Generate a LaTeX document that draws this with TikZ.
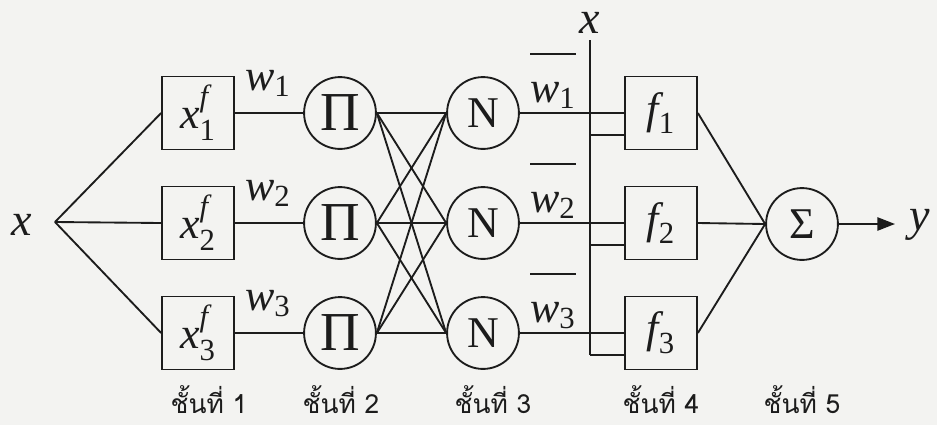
\documentclass[tikz,border=0pt]{standalone}
\usepackage{amsmath}
\usepackage{fontspec}
\setmainfont{Liberation Serif}
\newfontfamily\thaifont[Script=Thai]{Loma}
\usetikzlibrary{positioning,calc,arrows.meta}
\definecolor{scanBg}{HTML}{F3F3F1}
\definecolor{inkLine}{HTML}{1C1C1C}

\begin{document}
\begin{tikzpicture}[x=0.016cm, y=-0.016cm, color=inkLine, line width=0.85pt,
  mfbox/.style={draw, minimum width=1.15cm, minimum height=1.17cm, inner sep=0pt,
    font=\fontsize{20}{20}\selectfont},
  opnode/.style={draw, circle, minimum size=1.15cm, inner sep=0pt},
  wlabel/.style={anchor=base, font=\fontsize{20}{20}\selectfont},
  varlabel/.style={anchor=base, text height=0.5em, text depth=0.2em,
    font=\fontsize{21}{21}\selectfont\itshape},
  layertag/.style={anchor=base, font=\thaifont\fontsize{12}{14}\selectfont}]

% --- frame of the scan ---
\useasboundingbox (0,0) rectangle (937,425);
\fill[scanBg] (0,0) rectangle (937,425);

% --- input x and the x bus ---
\node[varlabel] (xlab) at (22,235) {x};
\coordinate (xin) at (55,222);
\node[varlabel] (xbuslab) at (590,33) {x};
\coordinate (xtop) at (590,40);

% --- output node (layer 5) ---
\node[opnode, font=\fontsize{20}{20}\selectfont] (sum) at (802,224) {Σ};

% --- layers 1 to 4, one row at a time ---
\foreach \i/\y in {1/113,2/223,3/333} {
  \node[mfbox] (mf\i) at (198,\y) {$\textit{x}_{\text{\i}}^{\textit{f}}$};
  \node[opnode, font=\fontsize{25}{25}\selectfont] (prod\i) at (340,\y) {Π};
  \node[opnode, font=\fontsize{20}{20}\selectfont] (norm\i) at (483,\y) {N};
  \node[mfbox] (cons\i) at (661,\y) {$\textit{f}_{\text{\i}}$};
  \node[wlabel] (w\i) at (268,\y-23) {$\textit{w}_{\text{\i}}$};
  \node[wlabel] (wn\i) at (553,\y-11)
    {$\overline{\raisebox{0pt}[19pt]{\textit{w}$_{\text{\i}}$}}$};
  \coordinate (tap\i) at (590,\y+22);
  \draw (xin) -- (mf\i.west);
  \draw (mf\i) -- (prod\i);
  \draw (norm\i) -- (cons\i);
  \draw (tap\i) -- (tap\i -| cons\i.west);
  \draw (cons\i.east) -- (sum.west);
}

% --- full links between layer 2 and layer 3 ---
\foreach \i in {1,2,3}
  \foreach \j in {1,2,3}
    \draw (prod\i.east) -- (norm\j.west);

\draw (xtop) -- (tap3);

% --- output y ---
\coordinate (yend) at (895,224);
\draw[-{Triangle[length=8pt,width=6pt]}] (sum) -- (yend);
\node[varlabel] (ylab) at (920,230) {y};

% --- layer tags ---
\foreach \n/\x in {1/209,2/341,3/493,4/661,5/802}
  \node[layertag] (tag\n) at (\x,413) {ชั้นที่ \n};

\end{tikzpicture}
\end{document}
